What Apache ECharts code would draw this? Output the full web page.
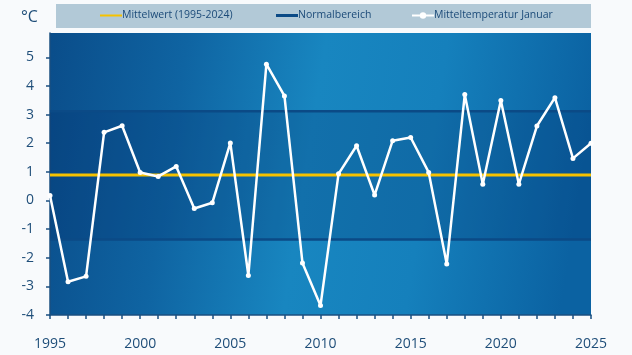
<!DOCTYPE html>
<html>
<head>
<meta charset="utf-8">
<script src="https://cdn.jsdelivr.net/npm/echarts@6/dist/echarts.min.js"></script>
<style>
html,body{margin:0;padding:0;background:#f8fafc;}
#c{width:632px;height:355px;}
</style>
</head>
<body>
<div id="c"></div>
<script>
// ---- data ----
const years = [1995,1996,1997,1998,1999,2000,2001,2002,2003,2004,2005,2006,2007,2008,2009,2010,
  2011,2012,2013,2014,2015,2016,2017,2018,2019,2020,2021,2022,2023,2024,2025];
const januaryTemps = [0.17,-2.84,-2.65,2.38,2.61,0.98,0.84,1.19,-0.28,-0.08,2.01,-2.62,4.76,3.65,-2.18,-3.67,
  0.93,1.91,0.19,2.09,2.2,0.98,-2.22,3.7,0.57,3.49,0.57,2.6,3.59,1.47,2.0];
const meanValue = 0.89;       // Mittelwert (1995-2024)
const normalUpper = 3.12;     // Normalbereich upper bound
const normalLower = -1.36;    // Normalbereich lower bound
const yTicks = [-4,-3,-2,-1,0,1,2,3,4,5];
const xLabelYears = [1995,2000,2005,2010,2015,2020,2025];
const xTickYears = years;
const legendNames = ['Mittelwert (1995-2024)', 'Normalbereich', 'Mitteltemperatur Januar'];

const firstYear = years[0], lastYear = years[years.length-1];
const tempData = years.map((y,i)=>[y, januaryTemps[i]]);
const flat = v => [[firstYear, v],[lastYear, v]];

const labelColor = '#1f4e79';
const fontFam = '"Open Sans", "Liberation Sans", sans-serif';

const legendBase = {
  top: 10, itemWidth: 22, itemHeight: 8, padding: 0,
  textStyle: {color: '#1b4a78', fontSize: 10.5, fontFamily: fontFam, padding:[0,0,0,-5]}
};

const chart = echarts.init(document.getElementById('c'), null, {renderer:'canvas'});
chart.setOption({
  backgroundColor: '#f8fafc',
  animation: false,
  graphic: [
    {type:'rect', left:56, top:4, shape:{width:535, height:24}, style:{fill:'#b2c9d7'}, z:-1},
    {type:'text', left:21, top:9, style:{text:'°C', fill:labelColor, font:'16px ' + fontFam}}
  ],
  legend: [
    Object.assign({}, legendBase, {left: 100, symbolKeepAspect: true,
      data: [{name: legendNames[0], icon: 'path://M0,0H22V2H0Z'}]}),
    Object.assign({}, legendBase, {left: 276, symbolKeepAspect: true,
      data: [{name: legendNames[1], icon: 'path://M0,0H22V3H0Z'}]}),
    Object.assign({}, legendBase, {left: 411, data: [legendNames[2]]})
  ],
  grid: {
    left: 50, right: 41, top: 33, bottom: 40, show: true, borderWidth: 0,
    backgroundColor: new echarts.graphic.LinearGradient(0,0,1,0.3,[
      {offset:0, color:'#0a4d8a'},
      {offset:0.25, color:'#0f64a2'},
      {offset:0.5, color:'#1886c0'},
      {offset:0.72, color:'#1580bc'},
      {offset:1, color:'#0b62a2'}
    ])
  },
  xAxis: {
    type: 'value', min: firstYear, max: lastYear, interval: 1,
    splitLine: {show:false},
    axisLine: {show:true, onZero:false, lineStyle:{color:'#1a4f80', width:1.5}},
    axisTick: {show:true, length:4, lineStyle:{color:'#1a4f80', width:1.5}, customValues: xTickYears},
    axisLabel: {color: labelColor, fontSize: 14, fontFamily: fontFam, margin: 22, customValues: xLabelYears,
      formatter: v => String(v)}
  },
  yAxis: {
    type: 'value', min: -4, max: 5.85, interval: 1,
    splitLine: {show:false},
    axisLine: {show:true, onZero:false, lineStyle:{color:'#1a4f80', width:1.5}},
    axisTick: {show:true, length:4, lineStyle:{color:'#1a4f80', width:1.5}, customValues: yTicks},
    axisLabel: {color: labelColor, fontSize: 14, fontFamily: fontFam, margin: 16, customValues: yTicks}
  },
  series: [
    {
      name: legendNames[1], type: 'line', data: flat(normalUpper), symbol: 'none',
      lineStyle: {color: '#0b4a86', width: 2.5}, itemStyle:{color:'#0b4a86'}, z: 2,
      markArea: {silent:true, itemStyle:{color:'rgba(0,35,95,0.22)'},
        data: [[{yAxis: normalLower}, {yAxis: normalUpper}]]}
    },
    {
      name: legendNames[1], type: 'line', data: flat(normalLower), symbol: 'none',
      lineStyle: {color: '#0b4a86', width: 2.5}, itemStyle:{color:'#0b4a86'}, z: 2
    },
    {
      name: legendNames[0], type: 'line', data: flat(meanValue), symbol: 'none',
      lineStyle: {color: '#f6c200', width: 3}, itemStyle:{color:'#f6c200'}, z: 3
    },
    {
      name: legendNames[2], type: 'line', data: tempData,
      symbol: 'circle', symbolSize: 5, showSymbol: true,
      lineStyle: {color: '#ffffff', width: 2.5}, itemStyle: {color: '#ffffff'}, z: 4
    }
  ]
});
</script>
</body>
</html>
